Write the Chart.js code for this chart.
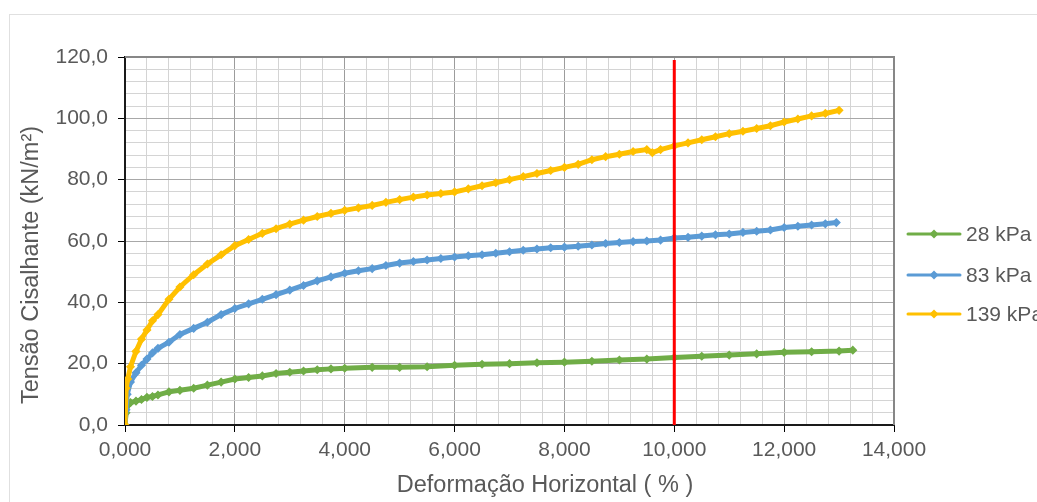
<!DOCTYPE html>
<html lang="pt">
<head>
<meta charset="UTF-8">
<title>Tensão x Deformação</title>
<script src="https://cdn.jsdelivr.net/npm/chart.js"></script>
<style>
    html, body { margin: 0; padding: 0; background: #fff; overflow: hidden; }
    canvas { display: block; }
</style>
</head>
<body>
<canvas id="shearChart" width="1037" height="502"></canvas>
<script>
// Deformação horizontal (%) e tensão cisalhante (kN/m²) de cada ensaio
const strain28 = [0, 0.02, 0.05, 0.1, 0.2, 0.3, 0.4, 0.5, 0.6, 0.8, 1.0, 1.25, 1.5, 1.75, 2.0, 2.25, 2.5, 2.75, 3.0, 3.25, 3.5, 3.75, 4.0, 4.5, 5.0, 5.5, 6.0, 6.5, 7.0, 7.5, 8.0, 8.5, 9.0, 9.5, 10.0, 10.5, 11.0, 11.5, 12.0, 12.5, 13.0, 13.25];
const stress28 = [0, 4, 6.5, 7.3, 7.8, 8.3, 9, 9.3, 9.8, 10.8, 11.3, 12, 13, 14, 15, 15.5, 16, 16.8, 17.2, 17.6, 18, 18.3, 18.5, 18.8, 18.8, 19, 19.5, 19.8, 20, 20.3, 20.5, 20.8, 21.2, 21.5, 22, 22.4, 22.8, 23.2, 23.7, 23.9, 24.1, 24.4];

const strain83 = [0, 0.02, 0.04, 0.1, 0.2, 0.3, 0.4, 0.5, 0.6, 0.8, 1.0, 1.25, 1.5, 1.75, 2.0, 2.25, 2.5, 2.75, 3.0, 3.25, 3.5, 3.75, 4.0, 4.25, 4.5, 4.75, 5.0, 5.25, 5.5, 5.75, 6.0, 6.25, 6.5, 6.75, 7.0, 7.25, 7.5, 7.75, 8.0, 8.25, 8.5, 8.75, 9.0, 9.25, 9.5, 9.75, 10.0, 10.25, 10.5, 10.75, 11.0, 11.25, 11.5, 11.75, 12.0, 12.25, 12.5, 12.75, 12.95];
const stress83 = [0, 5, 10, 14, 17, 19.5, 21.5, 23.5, 25, 27, 29.5, 31.5, 33.5, 36, 38, 39.5, 41, 42.5, 44, 45.5, 47, 48.3, 49.5, 50.3, 51, 52, 52.8, 53.3, 53.8, 54.3, 54.8, 55.2, 55.5, 56, 56.5, 57, 57.4, 57.8, 58, 58.3, 58.7, 59.2, 59.5, 59.8, 60, 60.3, 61, 61.2, 61.6, 62, 62.3, 62.8, 63.2, 63.6, 64.4, 64.8, 65.2, 65.6, 66];

const strain139 = [0, 0.02, 0.05, 0.1, 0.2, 0.3, 0.4, 0.5, 0.6, 0.8, 1.0, 1.25, 1.5, 1.75, 2.0, 2.25, 2.5, 2.75, 3.0, 3.25, 3.5, 3.75, 4.0, 4.25, 4.5, 4.75, 5.0, 5.25, 5.5, 5.75, 6.0, 6.25, 6.5, 6.75, 7.0, 7.25, 7.5, 7.75, 8.0, 8.25, 8.5, 8.75, 9.0, 9.25, 9.5, 9.6, 9.75, 10.0, 10.25, 10.5, 10.75, 11.0, 11.25, 11.5, 11.75, 12.0, 12.25, 12.5, 12.75, 13.0];
const stress139 = [0, 12, 15, 19, 24, 28, 31, 34, 36, 41, 45, 49, 52.5, 55.5, 58.5, 60.5, 62.5, 64, 65.5, 66.8, 68, 69, 70, 70.8, 71.6, 72.6, 73.5, 74.3, 75, 75.5, 76, 77, 78, 79, 80, 81, 82, 83, 84, 85, 86.5, 87.5, 88.3, 89.2, 89.8, 88.8, 89.8, 91, 92, 93, 94, 95, 95.8, 96.7, 97.6, 98.8, 99.8, 100.8, 101.6, 102.6];

// linha vertical de referência em 10 %
const limitStrain = [10, 10];
const limitStress = [119, 0];

const seriesLabels = ['28 kPa', '83 kPa', '139 kPa'];
const seriesColors = ['#70ad47', '#5b9bd5', '#ffc000'];

const FONT = '"Liberation Sans", Arial, sans-serif';
const TEXT_GRAY = '#595959';

function toPoints(xs, ys) {
    return xs.map((x, i) => ({ x: x, y: ys[i] }));
}

function isMajor(v, step) {
    return Math.abs(v / step - Math.round(v / step)) < 1e-6;
}

function curve(i, xs, ys, order) {
    return {
        label: seriesLabels[i],
        data: toPoints(xs, ys),
        borderColor: seriesColors[i],
        backgroundColor: seriesColors[i],
        borderWidth: 5,
        pointStyle: 'rectRot',
        pointRadius: 3.5,
        pointBorderWidth: 1.5,
        tension: 0,
        order: order
    };
}

// moldura externa e bordas superior/direita da área de plotagem
const framePlugin = {
    id: 'frame',
    beforeDraw(chart) {
        const ctx = chart.ctx;
        ctx.save();
        ctx.fillStyle = '#fff';
        ctx.fillRect(0, 0, chart.width, chart.height);
        ctx.strokeStyle = '#e0e0e0';
        ctx.lineWidth = 1;
        ctx.strokeRect(9.5, 14.5, 2000, 2000);
        ctx.restore();
    },
    afterDraw(chart) {
        const { ctx, chartArea: a } = chart;
        ctx.save();
        ctx.strokeStyle = '#878787';
        ctx.lineWidth = 2;
        ctx.beginPath();
        ctx.moveTo(a.left, a.top);
        ctx.lineTo(a.right, a.top);
        ctx.lineTo(a.right, a.bottom);
        ctx.stroke();
        ctx.restore();
    }
};

// títulos dos eixos
const titlesPlugin = {
    id: 'axisTitles',
    afterDraw(chart) {
        const ctx = chart.ctx;
        ctx.save();
        ctx.fillStyle = TEXT_GRAY;
        ctx.font = '23.5px ' + FONT;
        ctx.textAlign = 'center';
        ctx.textBaseline = 'alphabetic';
        ctx.fillText('Deformação Horizontal ( % )', 545, 492);
        ctx.translate(38, 265);
        ctx.rotate(-Math.PI / 2);
        ctx.fillText('Tensão Cisalhante (kN/m²)', 0, 0);
        ctx.restore();
    }
};

// legenda à direita (linha + losango)
const legendPlugin = {
    id: 'sideLegend',
    afterDraw(chart) {
        const ctx = chart.ctx;
        const rows = [234, 275, 314];
        ctx.save();
        ctx.font = '21px ' + FONT;
        ctx.textBaseline = 'middle';
        ctx.textAlign = 'left';
        chart.data.datasets.slice(0, 3).forEach((ds, i) => {
            const y = rows[i];
            ctx.strokeStyle = ds.borderColor;
            ctx.fillStyle = ds.borderColor;
            ctx.lineWidth = 3;
            ctx.lineCap = 'round';
            ctx.beginPath();
            ctx.moveTo(908, y);
            ctx.lineTo(960, y);
            ctx.stroke();
            ctx.beginPath();
            ctx.moveTo(934, y - 4.5);
            ctx.lineTo(938.5, y);
            ctx.lineTo(934, y + 4.5);
            ctx.lineTo(929.5, y);
            ctx.closePath();
            ctx.fill();
            ctx.fillStyle = TEXT_GRAY;
            ctx.fillText(ds.label, 966, y + 1);
        });
        ctx.restore();
    }
};

new Chart(document.getElementById('shearChart'), {
    type: 'line',
    data: {
        datasets: [
            curve(0, strain28, stress28, 3),
            curve(1, strain83, stress83, 2),
            curve(2, strain139, stress139, 1),
            {
                label: 'limite',
                data: toPoints(limitStrain, limitStress),
                borderColor: '#ff0000',
                borderWidth: 3,
                pointRadius: 0,
                order: 0
            }
        ]
    },
    options: {
        responsive: false,
        animation: false,
        events: [],
        layout: { padding: { left: 0, top: 57, right: 143, bottom: 0 } },
        plugins: { legend: { display: false }, tooltip: { enabled: false } },
        scales: {
            x: {
                type: 'linear',
                min: 0,
                max: 14,
                afterFit(scale) { scale.height = 77; },
                ticks: {
                    stepSize: 0.4,
                    autoSkip: false,
                    maxRotation: 0,
                    padding: 6,
                    color: TEXT_GRAY,
                    font: { family: FONT, size: 21 },
                    callback: v => isMajor(v, 2) ? v.toFixed(3).replace('.', ',') : ''
                },
                grid: {
                    tickLength: 7,
                    lineWidth: 1,
                    color: c => isMajor(c.tick.value, 2) ? '#9c9c9c' : '#d4d4d4',
                    tickColor: c => isMajor(c.tick.value, 2) ? '#000' : 'rgba(0,0,0,0)'
                },
                border: { color: '#1a1a1a', width: 2 }
            },
            y: {
                min: 0,
                max: 120,
                afterFit(scale) { scale.width = 125; },
                ticks: {
                    stepSize: 4,
                    autoSkip: false,
                    padding: 10,
                    color: TEXT_GRAY,
                    font: { family: FONT, size: 21 },
                    callback: v => isMajor(v, 20) ? v.toFixed(1).replace('.', ',') : ''
                },
                grid: {
                    tickLength: 7,
                    lineWidth: 1,
                    color: c => isMajor(c.tick.value, 20) ? '#a8a8a8' : '#d4d4d4',
                    tickColor: c => isMajor(c.tick.value, 20) ? '#000' : 'rgba(0,0,0,0)'
                },
                border: { color: '#1a1a1a', width: 2 }
            }
        }
    },
    plugins: [framePlugin, titlesPlugin, legendPlugin]
});
</script>
</body>
</html>
